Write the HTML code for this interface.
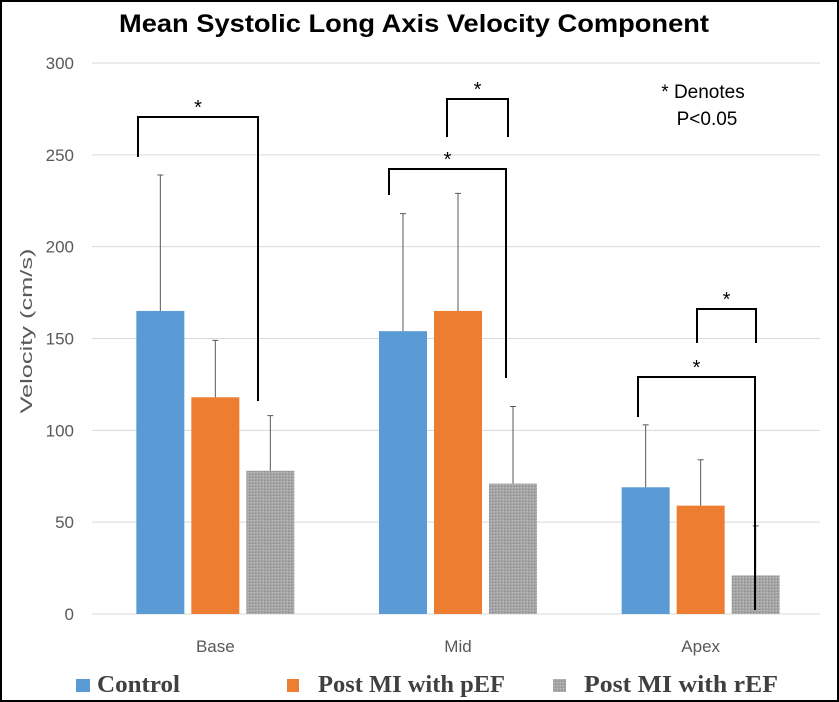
<!DOCTYPE html>
<html><head><meta charset="utf-8"><style>body{margin:0;background:#fff}svg{display:block}</style></head>
<body>
<svg id="chart" width="839" height="702" xmlns="http://www.w3.org/2000/svg">
<defs><pattern id="gp" width="3" height="3" patternUnits="userSpaceOnUse"><rect width="3" height="3" fill="#a5a5a5"/><rect width="1" height="1" fill="#8c8c8c"/><rect x="2" y="1" width="1" height="1" fill="#c0c0c0"/></pattern></defs>
<rect x="1" y="1" width="837" height="700" fill="#fff" stroke="#000" stroke-width="2"/>
<text x="414" y="32" font-family="Liberation Sans, sans-serif" font-weight="bold" font-size="25" text-anchor="middle" textLength="590" lengthAdjust="spacingAndGlyphs">Mean Systolic Long Axis Velocity Component</text>
<g id="grid"></g><g id="bars"></g><g id="sig"></g>
<text transform="translate(32,331) rotate(-90)" font-family="Liberation Sans, sans-serif" font-size="17" fill="#595959" text-anchor="middle" textLength="165" lengthAdjust="spacingAndGlyphs">Velocity (cm/s)</text>
<text x="703" y="98" font-family="Liberation Sans, sans-serif" font-size="19" text-anchor="middle">* Denotes</text>
<text x="707" y="125" font-family="Liberation Sans, sans-serif" font-size="19" text-anchor="middle">P&lt;0.05</text>
<g>
<rect x="76" y="679" width="14" height="13" fill="#5b9bd5"/>
<text x="97" y="692" font-family="Liberation Serif, serif" font-weight="bold" font-size="24" fill="#404040" textLength="83" lengthAdjust="spacingAndGlyphs">Control</text>
<rect x="287" y="679" width="12" height="13" fill="#ed7d31"/>
<text x="318" y="692" font-family="Liberation Serif, serif" font-weight="bold" font-size="24" fill="#404040" textLength="187" lengthAdjust="spacingAndGlyphs">Post MI with pEF</text>
<rect x="553" y="679" width="13" height="13" fill="url(#gp)"/>
<text x="584" y="692" font-family="Liberation Serif, serif" font-weight="bold" font-size="24" fill="#404040" textLength="194" lengthAdjust="spacingAndGlyphs">Post MI with rEF</text>
</g>
</svg>
<script>
const categories=["Base","Mid","Apex"];
const controlVals=[165,154,69];
const pefVals=[118,165,59];
const refVals=[78,71,21];
const controlErr=[239,218,103];
const pefErr=[149,229,84];
const refErr=[108,113,48];
const yTicks=[0,50,100,150,200,250,300];
const NS="http://www.w3.org/2000/svg";
const y0=614,y1=63,xL=94,xR=822;
function y(v){return y0-(v/300)*(y0-y1);}
function groupX(i){return xL+(xR-xL)*(i+0.5)/categories.length;}
function mk(t,a,p){const e=document.createElementNS(NS,t);for(const k in a)e.setAttribute(k,a[k]);p.appendChild(e);return e;}
const grid=document.getElementById('grid'),bars=document.getElementById('bars');
yTicks.forEach(v=>{
 const l=mk('line',{x1:92,x2:820,y1:y(v),y2:y(v),stroke:'#d9d9d9','stroke-width':1},grid);
 
 
 const t=mk('text',{x:74,y:y(v)+6,'text-anchor':'end','font-family':'Liberation Sans, sans-serif','font-size':17,fill:'#595959'},grid);
 t.textContent=v;
 
 
});
const series=[[controlVals,controlErr,'#5b9bd5','control'],[pefVals,pefErr,'#ed7d31','pef'],[refVals,refErr,'url(#gp)','ref']];
const bw=48,step=55;
categories.forEach((c,i)=>{
 const cx=groupX(i);
 series.forEach((s,j)=>{
  const x=cx+(j-1)*step-bw/2;
  const r=mk('rect',{x:x,y:y(s[0][i]),width:bw,height:y0-y(s[0][i]),fill:s[2]},bars);
  
  
  const ex=x+bw/2;
  const e=mk('path',{d:`M${ex},${y(s[0][i])}V${y(s[1][i])}M${ex-3},${y(s[1][i])}H${ex+3}`,stroke:'#595959','stroke-width':1,fill:'none'},bars);
  
  
 });
 const t=mk('text',{x:cx,y:652,'text-anchor':'middle','font-family':'Liberation Sans, sans-serif','font-size':17,fill:'#595959'},bars);
 t.textContent=c;
 
 
});
const sig=document.getElementById('sig');
const brackets=[[138,258,117,157,401],[389,506,169,195,378],[447,508,99,137,137],[638,755,377,417,610],[697,756,309,343,343]];
brackets.forEach((b,k)=>{
 const p=mk('path',{d:`M${b[0]},${b[3]}V${b[2]}H${b[1]}V${b[4]}`,stroke:'#000','stroke-width':2,fill:'none'},sig);
 
 
 const t=mk('text',{x:(b[0]+b[1])/2,y:b[2]-3,'text-anchor':'middle','font-family':'Liberation Sans, sans-serif','font-size':20},sig);
 t.textContent='*';
 
 
});
</script>
</body></html>
